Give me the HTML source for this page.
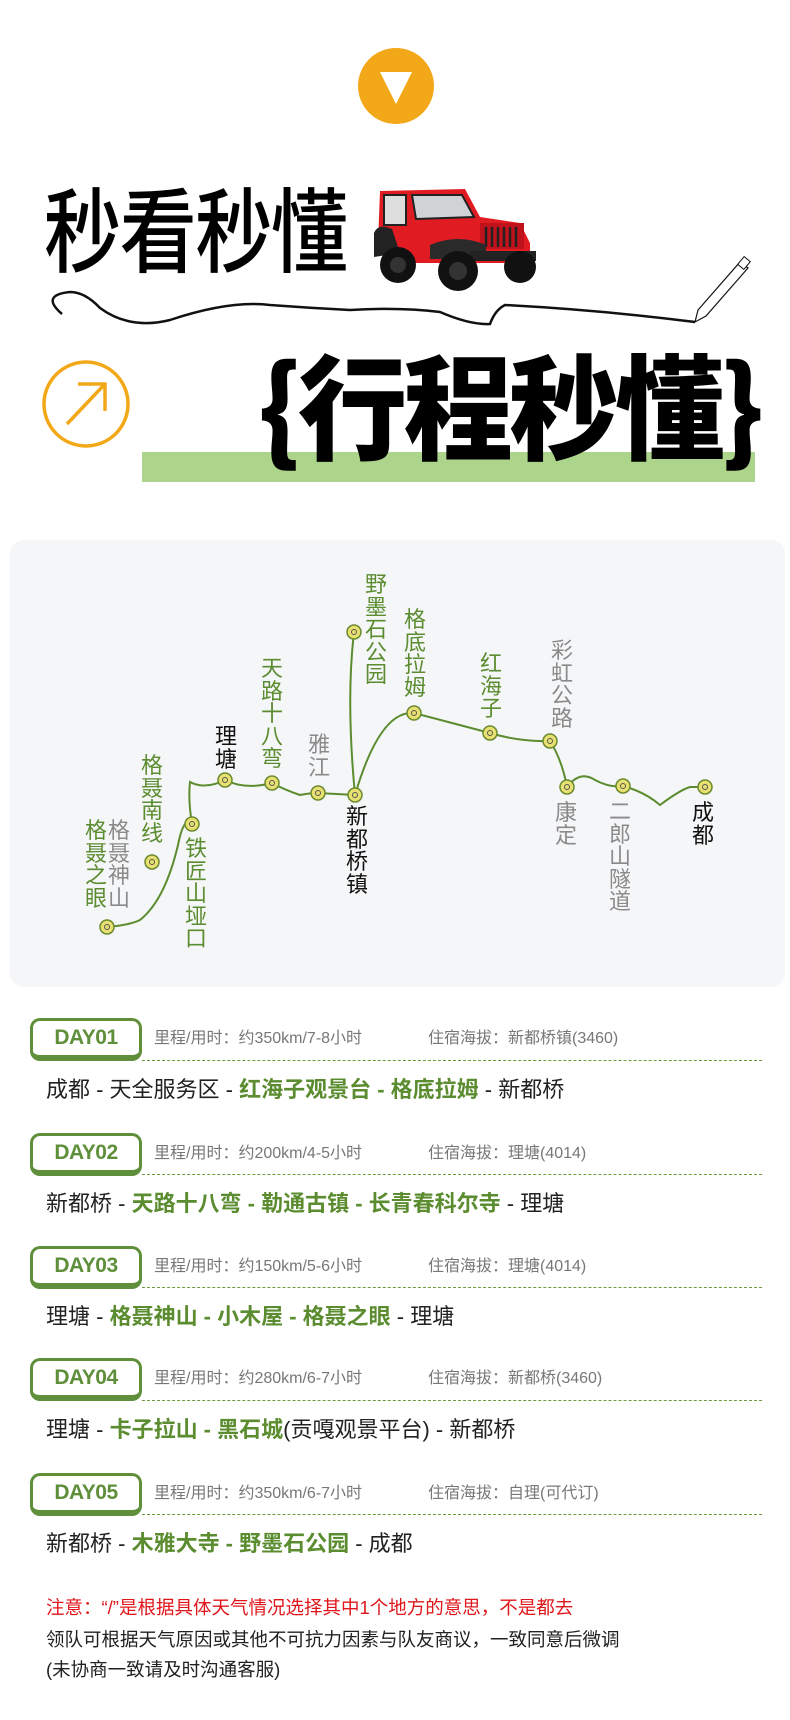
<!DOCTYPE html>
<html><head><meta charset="utf-8"><style>
*{margin:0;padding:0;box-sizing:border-box}
body{width:790px;height:1720px;position:relative;background:#fff;font-family:"Liberation Sans","Noto Sans CJK SC",sans-serif;overflow:hidden}
.a{position:absolute}
.v{position:absolute;width:24px;font-size:22px;line-height:22.5px;text-align:center;white-space:normal;word-break:break-all}
.g{color:#5b8c2f}.k{color:#111}.y{color:#8a8a8a}
.day{position:absolute;left:30px;width:112px;height:43px;border:3px solid #5f8f3a;border-bottom-width:6px;border-radius:10px;background:#fff;color:#5f8f3a;font:900 21px "Liberation Sans",sans-serif;text-align:center;line-height:34px;letter-spacing:-0.5px}
.meta{position:absolute;font-size:16px;color:#777;line-height:20px;white-space:nowrap}
.dash{position:absolute;left:142px;width:620px;border-top:1.5px dashed #6a9a3a}
.route{position:absolute;left:46px;font-size:22px;color:#222;white-space:nowrap;line-height:28px}
.route b{color:#5b8c2f;font-weight:700}
.note{position:absolute;left:46px;font-size:18.5px;line-height:24px;white-space:nowrap;color:#222}
</style></head><body>
<svg class="a" style="left:356px;top:48px" width="80" height="80"><circle cx="40" cy="38" r="38" fill="#f2a818"/><polygon points="24,24 56,24 40,56" fill="#fff"/></svg>
<div class="a" style="left:44px;top:166px;font:500 92px 'Noto Sans CJK SC',sans-serif;line-height:120px;transform:scaleX(.84);transform-origin:left top;color:#000;letter-spacing:-2px">秒看秒懂</div>
<svg class="a" style="left:370px;top:183px" width="175" height="110" viewBox="0 0 175 110">
<path d="M10 8 L95 6 L110 34 L150 40 L160 60 L160 80 L20 80 L8 60 Z" fill="#e01b22"/>
<rect x="14" y="12" width="22" height="30" fill="#ddd" stroke="#222" stroke-width="2"/>
<path d="M42 12 L92 12 L104 34 L46 36 Z" fill="#cfd3d6" stroke="#222" stroke-width="2"/>
<rect x="110" y="40" width="44" height="26" fill="#c0121a"/>
<g stroke="#222" stroke-width="2.5"><line x1="116" y1="44" x2="116" y2="64"/><line x1="122" y1="44" x2="122" y2="64"/><line x1="128" y1="44" x2="128" y2="64"/><line x1="134" y1="44" x2="134" y2="64"/><line x1="140" y1="44" x2="140" y2="64"/><line x1="146" y1="44" x2="146" y2="64"/></g>
<path d="M60 62 Q88 50 116 62 L116 76 L60 76Z" fill="#2a2a2a"/>
<rect x="100" y="68" width="66" height="10" fill="#222"/>
<path d="M4 50 Q8 40 22 46 L30 70 L4 74Z" fill="#222"/>
<circle cx="28" cy="82" r="18" fill="#111"/><circle cx="28" cy="82" r="8" fill="#333"/>
<circle cx="88" cy="88" r="20" fill="#111"/><circle cx="88" cy="88" r="9" fill="#333"/>
<circle cx="150" cy="84" r="16" fill="#111"/>
</svg>
<svg class="a" style="left:0;top:250px" width="790" height="90">
<path d="M62 64 Q40 45 70 42 Q85 42 100 58 Q130 80 170 70 Q230 50 270 55 Q310 58 350 60 Q400 57 440 62 Q470 75 490 74 Q495 60 505 55 Q600 60 695 72" fill="none" stroke="#111" stroke-width="2.5"/>
<path d="M695 72 L698 60 L740 12 L748 18 L706 66 Z" fill="#fff" stroke="#111" stroke-width="1.2"/>
<rect x="740" y="8" width="8" height="10" transform="rotate(40 744 13)" fill="#fff" stroke="#111"/>
</svg>
<svg class="a" style="left:40px;top:358px" width="92" height="92"><circle cx="46" cy="46" r="42" fill="none" stroke="#f2a818" stroke-width="3.5"/><path d="M27 66 L64 27 M38 26 L65 26 L65 53" fill="none" stroke="#f2a818" stroke-width="3.5"/></svg>
<div class="a" style="left:142px;top:452px;width:613px;height:30px;background:#acd48a"></div>
<div class="a" style="left:258px;top:322px;font:900 114px 'Noto Sans CJK SC',sans-serif;line-height:160px;color:#000;white-space:nowrap;transform:scaleX(.96);transform-origin:left top;letter-spacing:-4px">{行程秒懂}</div>
<div class="a" style="left:10px;top:540px;width:775px;height:447px;background:#f5f6f8;border-radius:14px"></div>
<svg class="a" style="left:0;top:0" width="790" height="1000">
<g fill="none" stroke="#5b8c2f" stroke-width="2">
<path d="M107 927 Q130 925 140 920 Q165 900 178 845 Q184 815 192 824"/>
<path d="M192 824 Q188 800 190 782 Q205 790 225 780 Q245 790 272 783 Q285 790 300 795 Q310 793 318 793 L355 795"/>
<path d="M355 795 Q346 700 354 632"/>
<path d="M355 795 Q380 710 414 713 L490 733 Q520 742 550 741 Q562 760 567 787 Q580 770 595 780 Q610 788 623 786 Q645 792 660 805 Q680 790 690 787 L705 787"/>
</g>
<g fill="#e8e070" stroke="#6a8a30" stroke-width="1.5">
<circle cx="107" cy="927" r="7"/><circle cx="152" cy="862" r="7"/><circle cx="192" cy="824" r="7"/><circle cx="225" cy="780" r="7"/><circle cx="272" cy="783" r="7"/><circle cx="318" cy="793" r="7"/><circle cx="355" cy="795" r="7"/><circle cx="354" cy="632" r="7"/><circle cx="414" cy="713" r="7"/><circle cx="490" cy="733" r="7"/><circle cx="550" cy="741" r="7"/><circle cx="567" cy="787" r="7"/><circle cx="623" cy="786" r="7"/><circle cx="705" cy="787" r="7"/>
</g>
<g fill="none" stroke="#555" stroke-width="1">
<circle cx="107" cy="927" r="2.5"/><circle cx="152" cy="862" r="2.5"/><circle cx="192" cy="824" r="2.5"/><circle cx="225" cy="780" r="2.5"/><circle cx="272" cy="783" r="2.5"/><circle cx="318" cy="793" r="2.5"/><circle cx="355" cy="795" r="2.5"/><circle cx="354" cy="632" r="2.5"/><circle cx="414" cy="713" r="2.5"/><circle cx="490" cy="733" r="2.5"/><circle cx="550" cy="741" r="2.5"/><circle cx="567" cy="787" r="2.5"/><circle cx="623" cy="786" r="2.5"/><circle cx="705" cy="787" r="2.5"/>
</g>
</svg>
<div class="v g" style="left:84px;top:820px">格聂之眼</div>
<div class="v y" style="left:107px;top:820px">格聂神山</div>
<div class="v g" style="left:140px;top:755px">格聂南线</div>
<div class="v g" style="left:184px;top:838px">铁匠山垭口</div>
<div class="v k" style="left:214px;top:726px">理塘</div>
<div class="v g" style="left:260px;top:658px">天路十八弯</div>
<div class="v y" style="left:307px;top:734px">雅江</div>
<div class="v k" style="left:345px;top:806px">新都桥镇</div>
<div class="v g" style="left:364px;top:574px">野墨石公园</div>
<div class="v g" style="left:403px;top:609px">格底拉姆</div>
<div class="v g" style="left:479px;top:653px">红海子</div>
<div class="v y" style="left:550px;top:640px">彩虹公路</div>
<div class="v y" style="left:554px;top:802px">康定</div>
<div class="v y" style="left:608px;top:801px">二郎山隧道</div>
<div class="v k" style="left:691px;top:802px">成都</div>
<div class="day" style="top:1018px">DAY01</div>
<div class="meta" style="left:154px;top:1029px">里程/用时：约350km/7-8小时</div>
<div class="meta" style="left:428px;top:1029px">住宿海拔：新都桥镇(3460)</div>
<div class="dash" style="top:1060px"></div>
<div class="route" style="top:1076px">成都 - 天全服务区 - <b>红海子观景台 - 格底拉姆</b> - 新都桥</div>
<div class="day" style="top:1133px">DAY02</div>
<div class="meta" style="left:154px;top:1144px">里程/用时：约200km/4-5小时</div>
<div class="meta" style="left:428px;top:1144px">住宿海拔：理塘(4014)</div>
<div class="dash" style="top:1174px"></div>
<div class="route" style="top:1190px">新都桥 - <b>天路十八弯 - 勒通古镇 - 长青春科尔寺</b> - 理塘</div>
<div class="day" style="top:1246px">DAY03</div>
<div class="meta" style="left:154px;top:1257px">里程/用时：约150km/5-6小时</div>
<div class="meta" style="left:428px;top:1257px">住宿海拔：理塘(4014)</div>
<div class="dash" style="top:1287px"></div>
<div class="route" style="top:1303px">理塘 - <b>格聂神山 - 小木屋 - 格聂之眼</b> - 理塘</div>
<div class="day" style="top:1358px">DAY04</div>
<div class="meta" style="left:154px;top:1369px">里程/用时：约280km/6-7小时</div>
<div class="meta" style="left:428px;top:1369px">住宿海拔：新都桥(3460)</div>
<div class="dash" style="top:1400px"></div>
<div class="route" style="top:1416px">理塘 - <b>卡子拉山 - 黑石城</b>(贡嘎观景平台) - 新都桥</div>
<div class="day" style="top:1473px">DAY05</div>
<div class="meta" style="left:154px;top:1484px">里程/用时：约350km/6-7小时</div>
<div class="meta" style="left:428px;top:1484px">住宿海拔：自理(可代订)</div>
<div class="dash" style="top:1514px"></div>
<div class="route" style="top:1530px">新都桥 - <b>木雅大寺 - 野墨石公园</b> - 成都</div>
<div class="note" style="top:1596px;color:#e0161b">注意：“/”是根据具体天气情况选择其中1个地方的意思，不是都去</div>
<div class="note" style="top:1628px">领队可根据天气原因或其他不可抗力因素与队友商议，一致同意后微调</div>
<div class="note" style="top:1658px">(未协商一致请及时沟通客服)</div>
</body></html>
